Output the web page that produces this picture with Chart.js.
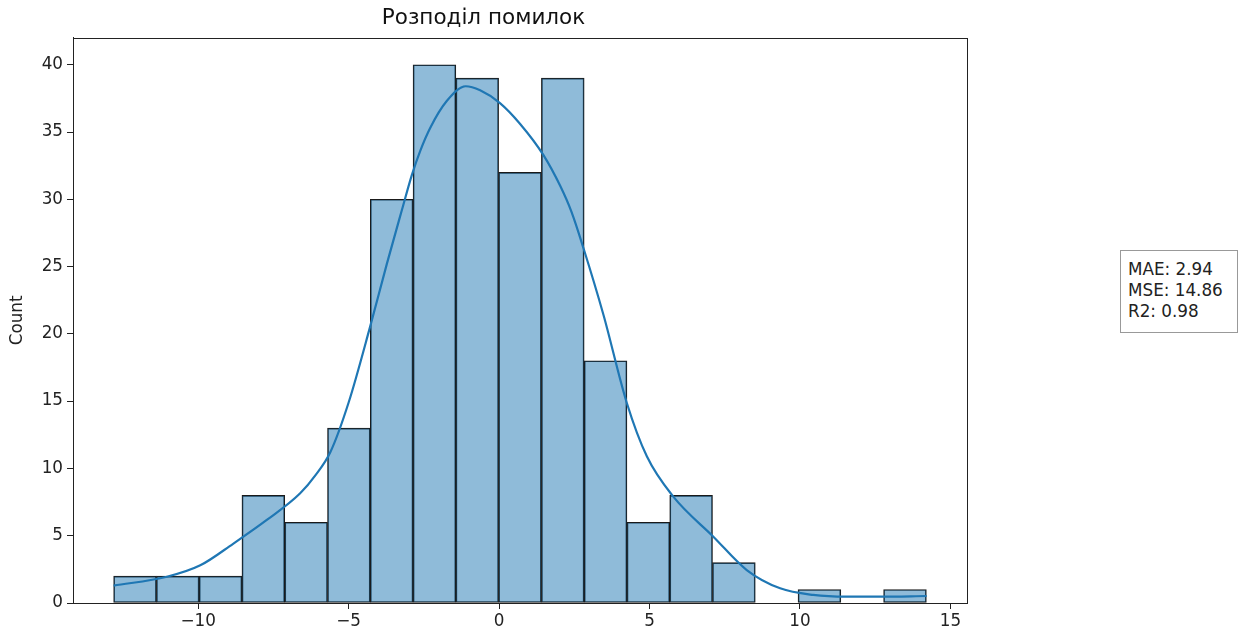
<!DOCTYPE html>
<html>
<head>
<meta charset="utf-8">
<script src="https://cdn.jsdelivr.net/npm/chart.js@4"></script>
<style>
  body { margin: 0; background: #fff; }
  #wrap { position: relative; width: 1242px; height: 635px; }
  #stats {
    position: absolute; left: 1120px; top: 250px; width: 118px; height: 83px;
    box-sizing: border-box; border: 1px solid #999; background: #fff;
    font-family: "DejaVu Sans", sans-serif; font-size: 16.8px; line-height: 21px;
    padding: 8px 0 0 7px; color: #222;
  }
</style>
</head>
<body>
<div id="wrap">
  <canvas id="c" width="1242" height="635"></canvas>
  <div id="stats">MAE: 2.94<br>MSE: 14.86<br>R2: 0.98</div>
</div>
<script>
// histogram bins (edges) and counts
const binEdges = [-12.81, -11.388, -9.967, -8.545, -7.124, -5.702, -4.28, -2.859, -1.437, -0.016,
                  1.406, 2.828, 4.249, 5.671, 7.092, 8.514, 9.935, 11.357, 12.778, 14.2];
const counts = [2, 2, 2, 8, 6, 13, 30, 40, 39, 32, 39, 18, 6, 8, 3, 0, 1, 0, 1];

// kde curve
const kdeX = [-12.81, -11.04, -9.93, -8.84, -7.72, -6.61, -6.1, -5.61, -5.0, -4.29, -3.73, -3.23, -2.90,
              -2.62, -2.29, -1.74, -1.11, -0.63, 0.03, 0.70, 1.47, 2.03, 2.4, 2.80, 3.47, 4.24, 4.91,
              5.79, 7.12, 8.23, 9.34, 10.44, 11.55, 12.66, 14.21];
const kdeY = [1.29, 1.95, 2.8, 4.4, 6.17, 8.15, 9.5, 11.2, 14.9, 20.5, 25.2, 29.2, 31.8,
              33.6, 35.3, 37.3, 38.4, 38.1, 37.15, 35.6, 33.3, 31.0, 29.1, 26.4, 21.4, 14.9, 10.9,
              7.9, 4.93, 2.45, 1.09, 0.6, 0.47, 0.47, 0.52];

const xTicks = [-10, -5, 0, 5, 10, 15];
const yTicks = [0, 5, 10, 15, 20, 25, 30, 35, 40];

const fmt = v => String(v).replace('-', '\u2212');
const F = '"DejaVu Sans", sans-serif';

const bars = counts.map((c, i) => ({ x: (binEdges[i] + binEdges[i + 1]) / 2, y: c }));
const kde = kdeX.map((x, i) => ({ x: x, y: kdeY[i] }));

// top + right spines
const frame = {
  id: 'frame',
  afterDraw(ch) {
    const a = ch.chartArea, g = ch.ctx;
    g.save();
    g.strokeStyle = '#222'; g.lineWidth = 1;
    g.strokeRect(Math.round(a.left) + 0.5, Math.round(a.top) + 0.5, Math.round(a.right - a.left), Math.round(a.bottom - a.top));
    g.restore();
  }
};

new Chart(document.getElementById('c'), {
  data: {
    datasets: [
      {
        type: 'line', data: kde, borderColor: '#1f77b4', borderWidth: 2.2,
        pointRadius: 0, fill: false, cubicInterpolationMode: 'monotone', order: 0
      },
      {
        type: 'bar', data: bars, backgroundColor: 'rgba(31,119,180,0.5)',
        borderColor: '#1a1a1a', borderWidth: 1, borderSkipped: false,
        barPercentage: 1, categoryPercentage: 1, grouped: false, order: 1
      }
    ]
  },
  options: {
    responsive: false, animation: false,
    layout: { padding: { left: 0, right: 275, top: 0, bottom: 0 } },
    plugins: {
      legend: { display: false }, tooltip: { enabled: false },
      title: {
        display: true, text: 'Розподіл помилок', color: '#111',
        font: { family: F, size: 21.5, weight: 'normal' }, padding: { top: 6, bottom: 6 }
      }
    },
    scales: {
      x: {
        type: 'linear', min: -14.16, max: 15.55, offset: false,
        afterBuildTicks: s => { s.ticks = xTicks.map(v => ({ value: v })); },
        afterFit: s => { s.height = 32; },
        grid: { display: true, offset: false, drawOnChartArea: false, drawTicks: true, tickLength: 6, color: '#222' },
        border: { display: true, color: '#222' },
        ticks: { color: '#222', font: { family: F, size: 16.8 }, padding: 3, maxRotation: 0, callback: v => fmt(v) }
      },
      y: {
        type: 'linear', min: 0, max: 42,
        afterBuildTicks: s => { s.ticks = yTicks.map(v => ({ value: v })); },
        afterFit: s => { s.width = 73; },
        grid: { display: true, drawOnChartArea: false, drawTicks: true, tickLength: 6, color: '#222' },
        border: { display: true, color: '#222' },
        ticks: { color: '#222', font: { family: F, size: 16.8 }, padding: 4, callback: v => fmt(v) },
        title: { display: true, text: 'Count', color: '#222', font: { family: F, size: 16.8 }, padding: { top: 8, bottom: 0 } }
      }
    }
  },
  plugins: [frame]
});
</script>
</body>
</html>
